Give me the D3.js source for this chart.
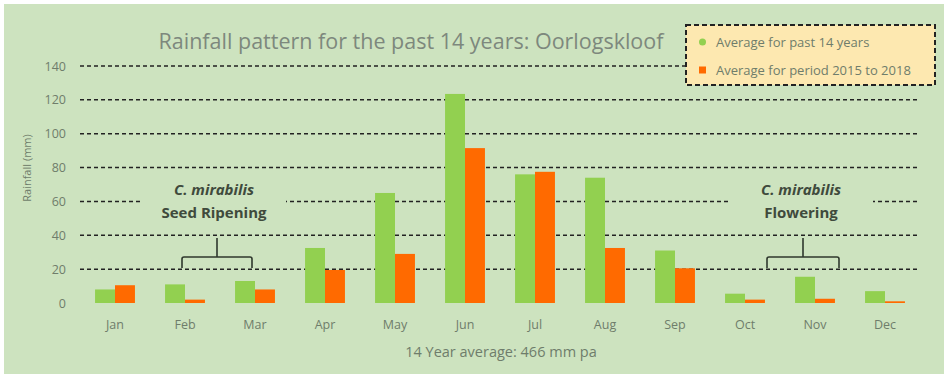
<!DOCTYPE html>
<html>
<head>
<meta charset="utf-8">
<script src="https://cdn.jsdelivr.net/npm/d3@7"></script>
<style>
  body { margin: 0; background: #ffffff; }
  text { font-family: "Open Sans", Lato, sans-serif; }
</style>
</head>
<body>
<div id="chart"></div>
<script>
var months = ["Jan", "Feb", "Mar", "Apr", "May", "Jun", "Jul", "Aug", "Sep", "Oct", "Nov", "Dec"];
var avg14 = [8, 11, 13, 32.5, 65, 123.5, 76, 74, 31, 5.5, 15.5, 7];
var avg1518 = [10.5, 2, 8, 19.5, 29, 91.5, 77.5, 32.5, 20.5, 2, 2.5, 1];
var seriesNames = ["Average for past 14 years", "Average for period 2015 to 2018"];
var yTicks = [0, 20, 40, 60, 80, 100, 120, 140];

var width = 944, height = 378;
var margin = { top: 66, bottom: 75, left: 80, right: 24 };
var bg = "#cde3bf";
var colors = ["#92d050", "#ff6a00"];
var textGray = "#6f7d6b";

var svg = d3.select("#chart")
    .append("svg")
        .attr("width", width)
        .attr("height", height);

// chart background
svg.append("rect")
    .attr("x", 4).attr("y", 4)
    .attr("width", width - 4).attr("height", height - 8)
    .attr("fill", bg);

var xScale = d3.scaleBand()
    .domain(months)
    .range([margin.left, width - margin.right])
    .paddingInner(0.43)
    .paddingOuter(0.215);

var xSub = d3.scaleBand()
    .domain([0, 1])
    .range([0, xScale.bandwidth()]);

var yScale = d3.scaleLinear()
    .domain([0, 140])
    .range([height - margin.bottom, margin.top]);

// dashed gridlines
svg.append("g")
    .selectAll("line")
    .data(yTicks.filter(function (d) { return d > 0; }))
    .enter()
    .append("line")
        .attr("x1", margin.left)
        .attr("x2", width - margin.right - 2)
        .attr("y1", function (d) { return yScale(d); })
        .attr("y2", function (d) { return yScale(d); })
        .attr("stroke", "#222")
        .attr("stroke-width", 1.5)
        .attr("stroke-dasharray", "4,3");

// y axis
var yAxis = d3.axisLeft(yScale).tickValues(yTicks).tickSize(0).tickPadding(14);
var yG = svg.append("g")
    .attr("transform", "translate(" + margin.left + ",0)")
    .call(yAxis);
yG.select(".domain").remove();
yG.selectAll("text")
    .attr("fill", textGray)
    .style("font-family", "'Open Sans'")
    .style("font-size", "12.5px");

// x axis
var xAxis = d3.axisBottom(xScale).tickSize(0).tickPadding(17);
var xG = svg.append("g")
    .attr("transform", "translate(0," + yScale(0) + ")")
    .call(xAxis);
xG.select(".domain").remove();
xG.selectAll("text")
    .attr("fill", textGray)
    .style("font-family", "'Open Sans'")
    .style("font-size", "12.5px");

// bars
var data = months.map(function (m, i) { return { month: m, vals: [avg14[i], avg1518[i]] }; });
var groups = svg.append("g")
    .selectAll("g")
    .data(data)
    .enter()
    .append("g")
        .attr("transform", function (d) { return "translate(" + xScale(d.month) + ",0)"; });
groups.selectAll("rect")
    .data(function (d) { return d.vals; })
    .enter()
    .append("rect")
        .attr("x", function (d, i) { return xSub(i); })
        .attr("y", function (d) { return yScale(d); })
        .attr("width", xSub.bandwidth())
        .attr("height", function (d) { return yScale(0) - yScale(d); })
        .attr("fill", function (d, i) { return colors[i]; });

// annotations
function annotate(cx, x1, x2, label) {
    var g = svg.append("g");
    g.append("rect")
        .attr("x", cx - 72).attr("y", 177)
        .attr("width", 144).attr("height", 46)
        .attr("fill", bg);
    g.append("text")
        .attr("x", cx).attr("y", 195)
        .attr("text-anchor", "middle")
        .style("font-size", "15px")
        .style("font-style", "italic")
        .style("font-weight", "bold")
        .attr("fill", "#3f4a3c")
        .text("C. mirabilis");
    g.append("text")
        .attr("x", cx).attr("y", 218)
        .attr("text-anchor", "middle")
        .style("font-size", "15px")
        .style("font-weight", "bold")
        .attr("fill", "#3f4a3c")
        .text(label);
    var top = 257, bot = 268, stem = 238, mid = (x1 + x2) / 2;
    g.append("path")
        .attr("d", "M" + x1 + "," + bot + " L" + x1 + "," + (top + 2) +
            " Q" + x1 + "," + top + " " + (x1 + 2) + "," + top +
            " L" + (x2 - 2) + "," + top +
            " Q" + x2 + "," + top + " " + x2 + "," + (top + 2) +
            " L" + x2 + "," + bot +
            " M" + mid + "," + top + " L" + mid + "," + stem)
        .attr("fill", "none")
        .attr("stroke", "#2f382d")
        .attr("stroke-width", 1.6);
}
var c = xScale.bandwidth() / 2;
annotate(214, xScale("Feb") + c - 3, xScale("Mar") + c - 3, "Seed Ripening");
annotate(801, xScale("Oct") + c + 22, xScale("Nov") + c + 24, "Flowering");

// title
svg.append("text")
    .attr("x", 411).attr("y", 49)
    .attr("text-anchor", "middle")
    .style("font-size", "21.5px")
    .attr("fill", "#7d887d")
    .text("Rainfall pattern for the past 14 years: Oorlogskloof");

// y label
svg.append("text")
    .attr("transform", "translate(31,168) rotate(-90)")
    .attr("text-anchor", "middle")
    .style("font-size", "11px")
    .attr("fill", textGray)
    .text("Rainfall (mm)");

// x footer
svg.append("text")
    .attr("x", 501).attr("y", 357)
    .attr("text-anchor", "middle")
    .style("font-size", "14.5px")
    .attr("fill", textGray)
    .text("14 Year average: 466 mm pa");

// legend
var legend = svg.append("g");
legend.append("rect")
    .attr("x", 686).attr("y", 25)
    .attr("width", 249).attr("height", 60)
    .attr("fill", "#fde8b0")
    .attr("stroke", "#222")
    .attr("stroke-width", 2)
    .attr("stroke-dasharray", "5,3");
seriesNames.forEach(function (name, i) {
    var yy = 42 + i * 28;
    legend.append("rect")
        .attr("x", 699).attr("y", yy - 3.5)
        .attr("width", 7).attr("height", 7)
        .attr("rx", i === 0 ? 3.5 : 0)
        .attr("fill", colors[i]);
    legend.append("text")
        .attr("x", 716).attr("y", yy + 4.5)
        .style("font-size", "13px")
        .attr("fill", textGray)
        .text(name);
});
</script>
</body>
</html>
